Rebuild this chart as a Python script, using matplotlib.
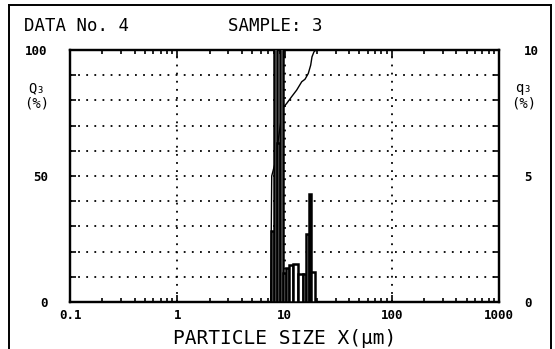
"""Particle size distribution chart (DATA No. 4 / SAMPLE: 3), plotter style."""

import matplotlib
matplotlib.use("Agg")
import matplotlib.pyplot as plt
from matplotlib.lines import Line2D
from matplotlib.ticker import LogLocator, NullFormatter, FixedLocator

# ---- data ----
# q3 histogram bins (um) and heights (% , right axis 0-10); tall bars run off scale
BIN_EDGES_UM = [7.43, 8.03, 8.46, 9.08, 9.62, 10.26, 11.09, 12.08, 13.45,
                14.78, 15.87, 16.81, 17.66, 19.25]
Q3_BARS = [2.8, 11.5, 6.3, 11.5, 1.15, 1.35, 1.47, 1.52, 1.12, 1.12, 2.7, 4.3, 1.2]

# cumulative Q3 curve (um, %)
CUM_SIZE_UM = [0.1, 7.43, 7.6, 8.15, 9.62, 10.48, 11.67, 12.99, 14.47, 15.53,
               16.67, 17.55, 18.05, 18.84, 19.67, 1000]
CUM_Q3 = [0, 0, 50, 55, 76.9, 78.8, 81.5, 84.1, 87.4, 88.4, 90.7, 94, 97.3,
          99.3, 100, 100]

X_TICKS = [0.1, 1, 10, 100, 1000]
X_LABELS = ["0.1", "1", "10", "100", "1000"]
Q_TICKS = list(range(0, 101, 10))
Q_LABELS = ["0", "", "", "", "", "50", "", "", "", "", "100"]
QD_TICKS = list(range(0, 11, 1))
QD_LABELS = ["0", "", "", "", "", "5", "", "", "", "", "10"]

MONO = "DejaVu Sans Mono"
W, H = 555, 349

fig = plt.figure(figsize=(W / 100, H / 100), dpi=100)
fig.patch.set_facecolor("white")

# axes box in pixel terms: left 70, right 499, top 50, bottom 302
ax = fig.add_axes([70 / W, 1 - 302 / H, 429 / W, 252 / H])
ax.set_xscale("log")
ax.set_xlim(0.1, 1000)
ax.set_ylim(0, 100)

ax2 = ax.twinx()
ax2.set_ylim(0, 10)

# histogram (right axis)
lefts = BIN_EDGES_UM[:-1]
widths = [b - a for a, b in zip(BIN_EDGES_UM[:-1], BIN_EDGES_UM[1:])]
ax2.bar(lefts, Q3_BARS, width=widths, align="edge", facecolor="white",
        edgecolor="black", linewidth=1.8, zorder=3)

# cumulative curve (left axis)
ax.plot(CUM_SIZE_UM, CUM_Q3, color="black", lw=1.0, zorder=2)

# dotted grid
for x in [1, 10, 100]:
    ax.axvline(x, color="black", lw=1.3, ls=(0, (1, 3.5)), zorder=1)
for y in range(10, 100, 10):
    ax.axhline(y, color="black", lw=1.3, ls=(0, (1, 3.5)), zorder=1)

# ticks
ax.xaxis.set_major_locator(FixedLocator(X_TICKS))
ax.set_xticklabels(X_LABELS, family=MONO, fontsize=9, fontweight="bold")
ax.xaxis.set_minor_locator(LogLocator(base=10, subs=range(2, 10)))
ax.xaxis.set_minor_formatter(NullFormatter())
ax.tick_params(axis="x", which="both", direction="in", top=True, width=1.2)
ax.tick_params(axis="x", which="major", length=5, pad=5)
ax.tick_params(axis="x", which="minor", length=3)

ax.set_yticks(Q_TICKS)
ax.set_yticklabels(Q_LABELS, family=MONO, fontsize=9, fontweight="bold")
ax.tick_params(axis="y", direction="in", length=4, width=1.2, pad=16)
ax2.set_yticks(QD_TICKS)
ax2.set_yticklabels(QD_LABELS, family=MONO, fontsize=9, fontweight="bold")
ax2.tick_params(axis="y", direction="in", length=4, width=1.2, pad=18)

for a in (ax, ax2):
    for s in a.spines.values():
        s.set_linewidth(1.6)

ax.set_xlabel("PARTICLE SIZE X(\u03bcm)", family=MONO, fontsize=14, labelpad=5)

# axis captions beside the scales
fig.text(37 / W, 1 - 88 / H, "Q\u2083", family=MONO, fontsize=10, ha="center", va="center")
fig.text(37 / W, 1 - 103 / H, "(%)", family=MONO, fontsize=10, ha="center", va="center")
fig.text(524 / W, 1 - 88 / H, "q\u2083", family=MONO, fontsize=10, ha="center", va="center")
fig.text(524 / W, 1 - 103 / H, "(%)", family=MONO, fontsize=10, ha="center", va="center")

# header
fig.text(24 / W, 1 - 26 / H, "DATA No. 4", family=MONO, fontsize=12.5, va="center")
fig.text(228 / W, 1 - 26 / H, "SAMPLE: 3", family=MONO, fontsize=12.5, va="center")

# outer frame (open at the bottom edge of the picture)
fx0, fx1, fy0 = 9 / W, 551 / W, 1 - 5 / H
for xs, ys in [([fx0, fx1], [fy0, fy0]), ([fx0, fx0], [fy0, -0.01]), ([fx1, fx1], [fy0, -0.01])]:
    fig.add_artist(Line2D(xs, ys, color="black", lw=1.4))

fig.savefig("out.png", dpi=100)
